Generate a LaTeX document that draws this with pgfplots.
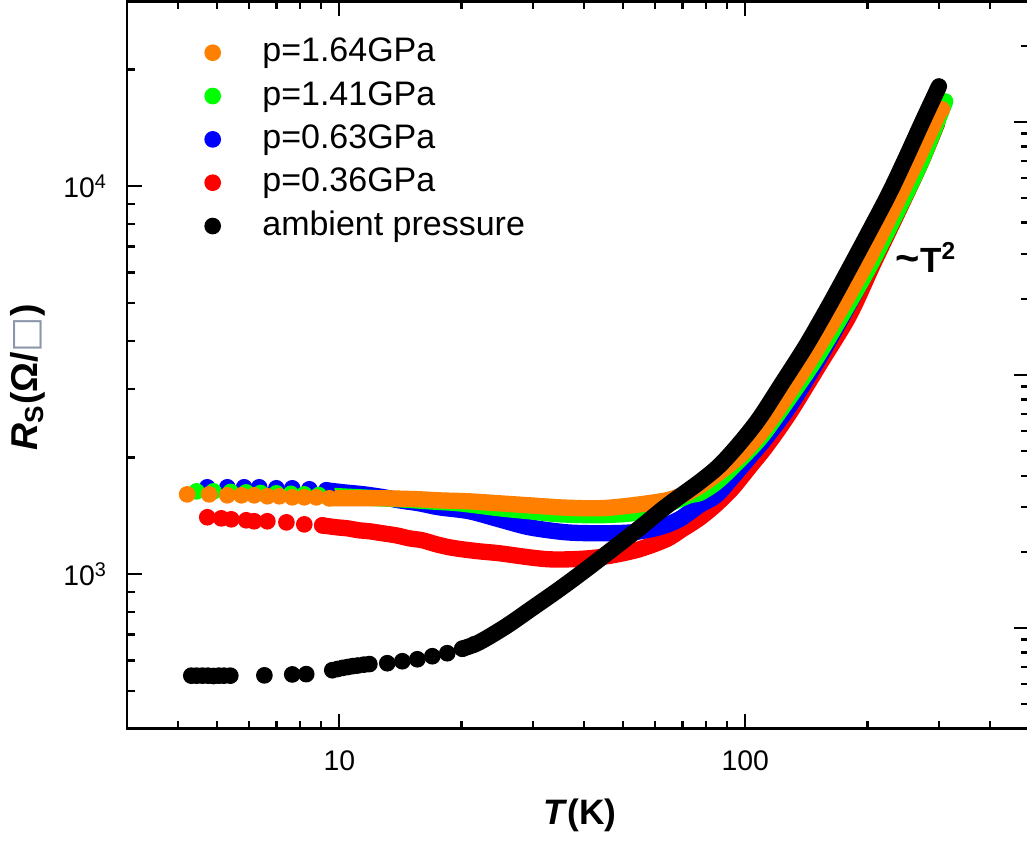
\documentclass[border=0pt]{standalone}
\usepackage{pgfplots}
\pgfplotsset{compat=1.18}
\usepackage{fontspec}
\setmainfont{Liberation Sans}
\newfontfamily\dejavu{DejaVu Sans}
\definecolor{myorange}{RGB}{255,128,0}
\definecolor{mygreen}{RGB}{0,255,0}
\definecolor{myblue}{RGB}{0,0,255}
\definecolor{myred}{RGB}{255,0,0}
\definecolor{boxgray}{RGB}{140,150,170}
\pgfplotsset{band/.style={forget plot, no marks, smooth, tension=0.5, line width=4.9pt, line cap=round, line join=round}}
\begin{document}
\begin{tikzpicture}
\begin{axis}[
  scale only axis, width=270.6pt, height=218.25pt,
  xmode=log, ymode=log,
  xmin=3, xmax=500, ymin=400, ymax=30000,
  xtick={10,100}, xticklabels={10,100},
  minor xtick={4,5,6,7,8,9,20,30,40,50,60,70,80,90,200,300,400},
  ytick={1000,10000}, yticklabels={10\textsuperscript{3},10\textsuperscript{4}},
  minor ytick={500,600,700,800,900,2000,3000,4000,5000,6000,7000,8000,9000,20000},
  ytick pos=left,
  tick align=inside,
  major tick length=4.5pt, minor tick length=2.4pt,
  every tick/.style={line width=0.7pt, black},
  axis line style={line width=0.85pt},
  tick label style={font=\fontsize{8.5}{10}\selectfont},
  xticklabel style={yshift=-3.05pt},
  yticklabel style={xshift=-2.3pt},
  label style={font=\bfseries\fontsize{11.2}{13}\selectfont},
  xlabel={\textit{T}(K)},
  ylabel={\textit{R}\textsubscript{S}(Ω/{\dejavu\mdseries\color{boxgray}□})},
  xlabel style={at={(axis description cs:0.502,-0.1196)}, anchor=center, font=\bfseries\fontsize{10.6}{13}\selectfont},
  ylabel style={at={(axis description cs:-0.110,0.4825)}, anchor=center},
  legend style={at={(axis description cs:0.0732,0.9608)}, anchor=north west, draw=none, fill=none,
    font=\fontsize{10.2}{12}\selectfont, row sep=3.6pt,
    nodes={inner sep=0pt, text height=7.4pt, text depth=2pt}},
  legend cell align=left,
  legend image code/.code={\path (-2.5pt,0pt) (14.7pt,0pt); \draw[#1] plot coordinates {(0pt,0pt)};},
]
\addlegendimage{only marks, mark=*, color=myorange, mark size=2.3pt}
\addlegendentry{p=1.64GPa}
\addlegendimage{only marks, mark=*, color=mygreen, mark size=2.3pt}
\addlegendentry{p=1.41GPa}
\addlegendimage{only marks, mark=*, color=myblue, mark size=2.3pt}
\addlegendentry{p=0.63GPa}
\addlegendimage{only marks, mark=*, color=myred, mark size=2.3pt}
\addlegendentry{p=0.36GPa}
\addlegendimage{only marks, mark=*, color=black, mark size=2.3pt}
\addlegendentry{ambient pressure}

% ---- p = 0.36 GPa (red)
\addplot[forget plot, only marks, mark=*, color=myred, mark size=2.3pt] table {
4.73 1403
5.12 1394
5.42 1386
5.90 1378
6.17 1370
6.65 1370
7.41 1361
8.20 1345
9.08 1337
};
\addplot[band, color=myred] table {
9.08 1337
9.83 1322
10.46 1314
11.20 1298
11.86 1291
12.76 1276
13.81 1260
14.87 1238
16.01 1224
17.34 1195
18.66 1174
20.09 1160
22.12 1146
24.78 1133
29.38 1106
32.90 1093
36.86 1093
41.29 1100
47.03 1119
54.82 1160
63.90 1231
69.9 1306
77.0 1394
84.8 1515
92.9 1666
102.3 1887
112.6 2138
128.4 2600
152.1 3467
180.4 4650
206.8 6330
236.8 8520
270.3 11460
297.0 14540
};

% ---- p = 0.63 GPa (blue)
\addplot[forget plot, only marks, mark=*, color=myblue, mark size=2.3pt] table {
4.73 1676
5.30 1676
5.83 1676
6.35 1676
7.00 1666
7.66 1666
8.44 1656
9.29 1646
};
\addplot[band, color=myblue] table {
9.29 1646
10.29 1626
11.52 1607
12.91 1579
14.05 1551
15.74 1524
17.63 1488
20.90 1454
24.78 1386
29.38 1322
36.24 1283
43.69 1276
52.69 1283
61.4 1322
68.8 1386
77.0 1506
84.8 1598
92.9 1778
102.3 2002
112.6 2254
128.4 2710
150.4 3540
176.3 4764
204.4 6408
234.2 8622
266.8 11600
297.0 14880
};

% ---- p = 1.41 GPa (green)
\addplot[forget plot, only marks, mark=*, color=mygreen, mark size=2.3pt] table {
4.45 1636
4.90 1636
5.40 1630
5.90 1626
6.40 1620
7.00 1617
7.60 1612
8.20 1607
8.90 1600
};
\addplot[band, color=mygreen] table {
8.90 1600
10.0 1589
12.54 1570
14.05 1561
16.66 1542
19.75 1524
24.78 1480
29.38 1454
34.83 1428
43.69 1420
52.69 1437
61.4 1488
72.8 1598
77.0 1617
84.8 1726
94.0 1910
108.3 2230
121.3 2620
147.9 3540
175.3 4764
205.5 6408
236.8 8622
271.4 11600
310.8 16560
};

% ---- p = 1.64 GPa (orange)
\addplot[forget plot, only marks, mark=*, color=myorange, mark size=2.3pt] table {
4.22 1607
4.78 1607
5.30 1598
5.74 1598
6.17 1598
6.65 1589
7.12 1589
7.66 1579
8.20 1579
8.78 1579
9.45 1570
};
\addplot[band, color=myorange] table {
9.45 1570
10.95 1570
12.91 1570
15.74 1561
17.63 1551
20.90 1542
24.78 1524
29.38 1506
34.83 1488
40.59 1480
45.47 1483
52.69 1506
63.90 1551
70.7 1607
77.0 1686
86.3 1832
96.6 2014
106.4 2241
117.9 2584
143.7 3540
170.4 4764
199.8 6408
230.2 8622
263.8 11600
297.1 15150
305.3 15800
};

% ---- ambient pressure (black)
\addplot[forget plot, only marks, mark=*, color=black, mark size=2.3pt] table {
4.32 548
4.45 548
4.60 548
4.75 548
4.90 547
5.05 548
5.20 548
5.39 548
6.54 549
7.66 552
8.29 553
9.61 566
9.90 570
10.2 574
10.5 577
10.8 580
11.1 582
11.5 585
11.86 587
13.13 590
14.30 597
15.57 604
16.95 615
18.45 626
20.09 643
21.5 660
};
\addplot[band, color=black] table {
20.09 643
22.12 668
25.78 735
29.88 818
34.83 915
40.59 1030
47.03 1160
54.82 1314
63.90 1497
77.0 1726
86.3 1905
96.6 2168
108.3 2523
123.4 3116
141.3 3889
161.0 4932
180.4 6133
202.1 7660
226.3 9596
249.3 11890
272.9 14640
300.0 18100
};

\node[anchor=base west, inner sep=0pt, font=\bfseries\fontsize{10.5}{12}\selectfont] at (axis cs:234,6000) {{\fontsize{12.5}{12}\selectfont\char"7E}T\textsuperscript{2}};
\end{axis}
\begin{axis}[
  scale only axis, width=270.6pt, height=218.25pt,
  xmode=log, xmin=3, xmax=500, ymode=log, ymin=0.4, ymax=300,
  axis x line=none, axis y line*=right,
  axis line style={line width=0.85pt, -},
  ytick={1,10,100}, yticklabels={},
  minor ytick={0.5,0.6,0.7,0.8,0.9,2,3,4,5,6,7,8,9,20,30,40,50,60,70,80,90,200},
  tick align=inside,
  major tick length=4.5pt, minor tick length=2.4pt,
  every tick/.style={line width=0.7pt, black},
]
\end{axis}
\pgfresetboundingbox
\path[use as bounding box] (-38.1pt,-34.29pt) rectangle (270pt,218.61pt);
\end{tikzpicture}
\end{document}
